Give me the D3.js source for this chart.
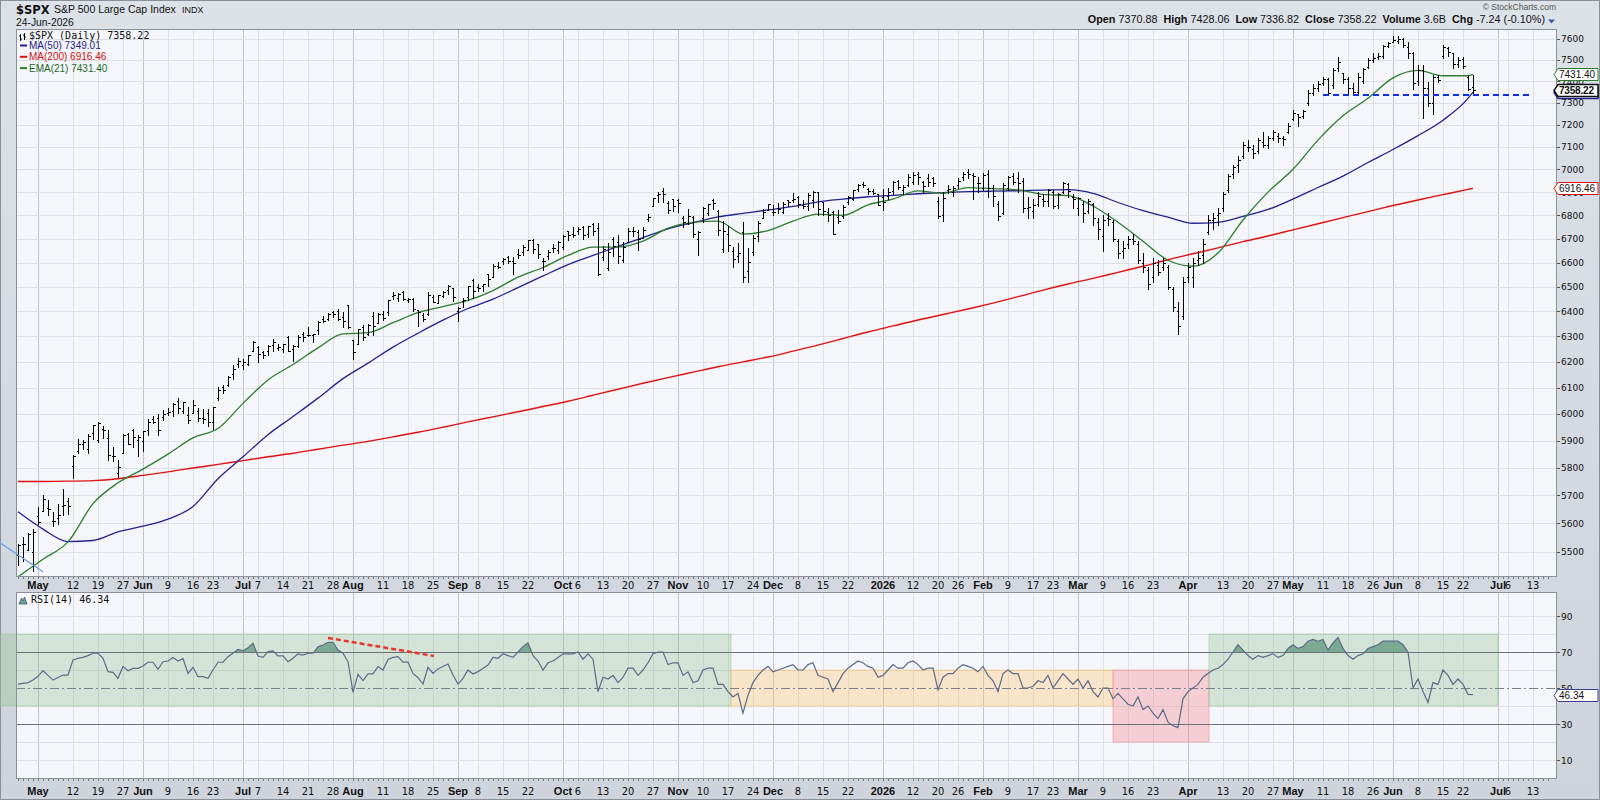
<!DOCTYPE html>
<html>
<head>
<meta charset="utf-8">
<title>$SPX Daily</title>
<script src="https://cdn.jsdelivr.net/npm/d3@7/dist/d3.min.js"></script>
<style>
  html, body { margin: 0; padding: 0; background: #fff; }
  svg { display: block; }
</style>
</head>
<body>
<div id="chart"></div>
<script>
// ---------------- data ----------------
// exchange holidays, used to lay the trading days out on the x axis
const holidays = ["2025-05-26", "2025-06-19", "2025-07-04", "2025-09-01", "2025-11-27",
  "2025-12-25", "2026-01-01", "2026-01-19", "2026-02-16", "2026-04-03", "2026-05-25",
  "2026-06-19", "2026-07-03"];
const firstDay = "2025-04-25";

// daily bars 2025-04-25 .. 2026-06-24, one row per month
const barOpen = [
  5489, 5529, 5508, 5499,
  5626, 5645, 5655, 5608, 5618, 5663, 5680, 5807, 5862, 5886, 5870, 5930, 5902, 5944, 5910, 5842, 5782, 5855, 5925, 5939, 5904,
  5897, 5938, 5979, 5985, 5987, 6005, 6010, 6049, 6010, 5997, 6005, 6012, 5986, 6005, 5969, 6062, 6104, 6112, 6151, 6193,
  6187, 6192, 6243, 6260, 6239, 6242, 6266, 6256, 6251, 6296, 6250, 6264, 6308, 6304, 6307, 6326, 6368, 6371, 6397, 6404, 6377, 6428,
  6288, 6271, 6336, 6310, 6382, 6354, 6389, 6398, 6461, 6454, 6478, 6445, 6451, 6406, 6384, 6390, 6458, 6436, 6462, 6487, 6494,
  6401, 6442, 6458, 6529, 6498, 6502, 6551, 6542, 6588, 6605, 6624, 6607, 6637, 6644, 6654, 6696, 6676, 6607, 6627, 6661, 6651,
  6665, 6732, 6722, 6733, 6749, 6719, 6764, 6744, 6625, 6577, 6698, 6688, 6610, 6687, 6735, 6730, 6703, 6786, 6840, 6889, 6905, 6853, 6870,
  6867, 6788, 6769, 6792, 6701, 6790, 6808, 6864, 6818, 6658, 6722, 6650, 6626, 6729, 6564, 6643, 6712, 6788, 6823,
  6813, 6830, 6815, 6866, 6867, 6880, 6843, 6842, 6867, 6899, 6857, 6816, 6812, 6791, 6796, 6856, 6869, 6912, 6936, 6913, 6907, 6890,
  6878, 6884, 6903, 6947, 6910, 6930, 6945, 6980, 6945, 6960, 6960, 6860, 6800, 6910, 6900, 6930, 6965, 6990, 6975, 6940,
  6920, 6980, 6920, 6850, 6810, 6920, 6970, 6960, 6950, 6830, 6820, 6850, 6870, 6860, 6900, 6845, 6900, 6935, 6880,
  6830, 6850, 6820, 6850, 6770, 6710, 6790, 6770, 6690, 6650, 6680, 6700, 6680, 6600, 6570, 6540, 6590, 6580, 6580, 6490, 6400, 6380,
  6540, 6540, 6610, 6630, 6730, 6780, 6800, 6830, 6910, 6980, 7020, 7060, 7100, 7090, 7080, 7120, 7110, 7140, 7150, 7140, 7165,
  7225, 7250, 7240, 7300, 7345, 7370, 7390, 7410, 7380, 7460, 7440, 7410, 7370, 7350, 7400, 7465, 7500, 7515, 7520, 7565,
  7585, 7590, 7600, 7560, 7530, 7400, 7450, 7370, 7300, 7420, 7520, 7555, 7530, 7480, 7505, 7420, 7370.88
];
const barHigh = [
  5528, 5553, 5565, 5581,
  5659, 5700, 5684, 5640, 5668, 5721, 5691, 5845, 5906, 5901, 5925, 5959, 5969, 5953, 5939, 5878, 5829, 5924, 5930, 5943, 5922,
  5937, 5979, 5991, 5999, 6016, 6022, 6043, 6060, 6045, 6026, 6051, 6024, 6019, 6018, 6028, 6102, 6109, 6146, 6187, 6216,
  6211, 6227, 6284, 6263, 6243, 6265, 6290, 6270, 6270, 6302, 6266, 6304, 6316, 6336, 6310, 6360, 6381, 6395, 6402, 6409, 6396, 6428,
  6288, 6331, 6346, 6349, 6396, 6395, 6401, 6446, 6481, 6474, 6482, 6456, 6456, 6407, 6394, 6479, 6466, 6467, 6483, 6508, 6497,
  6417, 6453, 6503, 6533, 6511, 6513, 6555, 6593, 6601, 6619, 6626, 6624, 6657, 6672, 6694, 6699, 6676, 6621, 6651, 6679, 6690,
  6715, 6734, 6750, 6749, 6753, 6755, 6765, 6765, 6671, 6683, 6708, 6716, 6685, 6745, 6752, 6736, 6750, 6807, 6876, 6901, 6920, 6862, 6872,
  6868, 6798, 6829, 6795, 6733, 6834, 6847, 6869, 6823, 6775, 6755, 6666, 6683, 6771, 6662, 6714, 6776, 6829, 6850,
  6843, 6851, 6858, 6867, 6895, 6885, 6865, 6895, 6904, 6902, 6858, 6830, 6820, 6821, 6843, 6881, 6910, 6937, 6945, 6920, 6915, 6893,
  6914, 6920, 6947, 6955, 6930, 6978, 6986, 6986, 6950, 6979, 6967, 6880, 6900, 6932, 6925, 6960, 6990, 7002, 6985, 6965,
  6985, 6995, 6930, 6860, 6940, 6970, 6985, 6990, 6960, 6880, 6870, 6900, 6890, 6915, 6910, 6895, 6945, 6940, 6890,
  6880, 6860, 6870, 6855, 6790, 6800, 6810, 6780, 6700, 6690, 6710, 6720, 6690, 6640, 6580, 6620, 6610, 6620, 6590, 6500, 6440, 6540,
  6600, 6620, 6650, 6700, 6800, 6810, 6830, 6900, 6980, 7020, 7060, 7120, 7130, 7110, 7140, 7165, 7150, 7175, 7160, 7150, 7205,
  7267, 7250, 7267, 7360, 7385, 7400, 7420, 7415, 7460, 7515, 7440, 7420, 7390, 7440, 7460, 7510, 7530, 7530, 7570, 7585,
  7612, 7612, 7605, 7585, 7535, 7475, 7475, 7395, 7430, 7430, 7570, 7560, 7530, 7512, 7512, 7430, 7428.06
];
const barLow = [
  5455, 5468, 5506, 5433,
  5597, 5644, 5629, 5590, 5597, 5628, 5632, 5764, 5853, 5867, 5854, 5907, 5895, 5910, 5830, 5825, 5767, 5855, 5887, 5875, 5843,
  5862, 5922, 5966, 5921, 5978, 5994, 5993, 6003, 6003, 5964, 6005, 5975, 5967, 5953, 5943, 6051, 6080, 6105, 6133, 6181,
  6173, 6188, 6241, 6201, 6216, 6228, 6241, 6245, 6237, 6242, 6202, 6258, 6284, 6303, 6277, 6311, 6356, 6365, 6378, 6366, 6336, 6332,
  6212, 6271, 6286, 6304, 6306, 6354, 6364, 6385, 6451, 6441, 6445, 6437, 6401, 6343, 6360, 6386, 6438, 6433, 6457, 6469, 6444,
  6360, 6418, 6445, 6453, 6485, 6484, 6503, 6540, 6578, 6596, 6598, 6551, 6620, 6633, 6651, 6642, 6619, 6570, 6614, 6644, 6642,
  6655, 6693, 6706, 6720, 6700, 6708, 6717, 6550, 6611, 6569, 6626, 6600, 6603, 6687, 6713, 6654, 6703, 6777, 6838, 6856, 6856, 6811, 6818,
  6815, 6752, 6764, 6708, 6632, 6773, 6802, 6826, 6715, 6646, 6650, 6580, 6604, 6521, 6521, 6631, 6690, 6788, 6823,
  6800, 6808, 6809, 6838, 6858, 6834, 6832, 6822, 6837, 6801, 6801, 6776, 6720, 6766, 6790, 6850, 6865, 6906, 6921, 6891, 6892, 6845,
  6824, 6870, 6890, 6912, 6890, 6925, 6934, 6936, 6895, 6925, 6925, 6790, 6775, 6895, 6885, 6920, 6955, 6960, 6870, 6900,
  6910, 6880, 6840, 6780, 6805, 6910, 6935, 6900, 6815, 6790, 6790, 6840, 6840, 6840, 6830, 6830, 6895, 6880, 6830,
  6800, 6770, 6810, 6760, 6700, 6650, 6760, 6690, 6620, 6620, 6660, 6680, 6600, 6560, 6490, 6520, 6550, 6570, 6490, 6400, 6310, 6370,
  6520, 6500, 6590, 6600, 6720, 6740, 6760, 6820, 6900, 6960, 6990, 7050, 7080, 7050, 7070, 7100, 7095, 7130, 7120, 7110, 7160,
  7220, 7195, 7232, 7290, 7335, 7355, 7380, 7335, 7370, 7445, 7390, 7345, 7338, 7340, 7390, 7460, 7490, 7505, 7510, 7560,
  7585, 7580, 7560, 7510, 7365, 7380, 7230, 7285, 7250, 7395, 7510, 7520, 7460, 7465, 7460, 7360, 7336.82
];
const barClose = [
  5525, 5529, 5561, 5569,
  5604, 5687, 5650, 5607, 5631, 5664, 5660, 5844, 5887, 5893, 5917, 5958, 5964, 5940, 5845, 5842, 5803, 5922, 5889, 5912, 5912,
  5936, 5970, 5971, 5939, 6000, 6006, 6039, 6022, 6045, 5977, 6033, 5983, 5981, 5968, 6025, 6092, 6092, 6141, 6173, 6205,
  6198, 6227, 6279, 6230, 6226, 6263, 6280, 6260, 6269, 6244, 6264, 6297, 6297, 6306, 6310, 6359, 6363, 6389, 6390, 6371, 6363, 6339,
  6238, 6330, 6299, 6345, 6340, 6389, 6373, 6446, 6467, 6469, 6450, 6449, 6411, 6396, 6370, 6467, 6439, 6466, 6481, 6502, 6460,
  6416, 6448, 6502, 6482, 6495, 6513, 6532, 6587, 6584, 6615, 6607, 6600, 6632, 6664, 6694, 6657, 6638, 6605, 6644, 6661, 6688,
  6711, 6715, 6716, 6740, 6715, 6754, 6735, 6553, 6655, 6644, 6671, 6629, 6664, 6735, 6735, 6699, 6738, 6792, 6875, 6891, 6891, 6822, 6840,
  6852, 6772, 6796, 6720, 6729, 6832, 6847, 6851, 6737, 6734, 6672, 6617, 6642, 6539, 6603, 6705, 6766, 6813, 6849,
  6813, 6829, 6850, 6857, 6870, 6847, 6841, 6887, 6901, 6827, 6817, 6800, 6721, 6775, 6835, 6878, 6910, 6932, 6930, 6906, 6896, 6846,
  6858, 6902, 6945, 6921, 6921, 6966, 6977, 6964, 6927, 6944, 6940, 6797, 6876, 6913, 6916, 6950, 6979, 6978, 6969, 6939,
  6976, 6918, 6883, 6798, 6932, 6965, 6942, 6941, 6833, 6836, 6843, 6881, 6862, 6910, 6838, 6890, 6940, 6905, 6870,
  6875, 6810, 6860, 6790, 6740, 6780, 6785, 6700, 6640, 6660, 6700, 6690, 6610, 6580, 6510, 6600, 6560, 6600, 6500, 6420, 6340, 6520,
  6580, 6600, 6620, 6680, 6780, 6790, 6810, 6890, 6970, 7010, 7040, 7110, 7100, 7070, 7130, 7110, 7140, 7165, 7140, 7135, 7195,
  7255, 7235, 7260, 7345, 7370, 7385, 7410, 7345, 7450, 7490, 7410, 7370, 7350, 7420, 7455, 7500, 7510, 7520, 7565, 7580,
  7595, 7600, 7570, 7530, 7390, 7450, 7370, 7300, 7420, 7405, 7560, 7535, 7480, 7500, 7470, 7365.46, 7358.22
];
const volumeText = "3.6B";

// moving averages, read every fifth bar (bar number counted from 2025-04-25)
const maIdx = [0, 5, 10, 15, 20, 25, 30, 35, 40, 45, 50, 55, 60, 65, 70, 75, 80, 85, 90, 95,
  100, 105, 110, 115, 120, 125, 130, 135, 140, 145, 150, 155, 160, 165, 170, 175, 180, 185, 190, 195,
  200, 205, 210, 215, 220, 225, 230, 235, 240, 245, 250, 255, 260, 265, 270, 275, 280, 285, 290, 291];
const ma50 = [5641, 5580, 5536, 5540, 5570, 5590, 5615, 5660, 5760, 5840, 5922, 5990, 6060, 6135, 6195, 6258, 6313, 6365, 6412, 6450,
  6497, 6545, 6592, 6630, 6668, 6705, 6742, 6768, 6793, 6808, 6823, 6838, 6858, 6870, 6880, 6886, 6893, 6898, 6902, 6904,
  6906, 6909, 6911, 6895, 6855, 6820, 6792, 6766, 6770, 6795, 6825, 6870, 6920, 6970, 7030, 7088, 7150, 7220, 7320, 7349.01];
const ma200 = [5750, 5750, 5751, 5753, 5760, 5772, 5785, 5799, 5812, 5826, 5840, 5853, 5868, 5883, 5897, 5914, 5931, 5950, 5970, 5989,
  6008, 6028, 6048, 6071, 6094, 6117, 6139, 6160, 6181, 6200, 6219, 6242, 6266, 6292, 6318, 6342, 6366, 6388, 6410, 6434,
  6460, 6487, 6512, 6535, 6560, 6585, 6612, 6637, 6662, 6688, 6712, 6738, 6764, 6790, 6816, 6842, 6866, 6889, 6912, 6916.46];
const ema21 = [5415, 5475, 5535, 5670, 5745, 5795, 5850, 5910, 5945, 6040, 6130, 6190, 6255, 6310, 6315, 6355, 6395, 6420, 6445, 6485,
  6540, 6580, 6630, 6665, 6665, 6690, 6745, 6770, 6775, 6720, 6735, 6775, 6805, 6800, 6845, 6870, 6905, 6895, 6920, 6915,
  6910, 6890, 6885, 6840, 6770, 6690, 6610, 6585, 6640, 6780, 6900, 7000, 7130, 7240, 7320, 7415, 7450, 7425, 7425, 7431.40];

// RSI(14), one value per bar
const rsi14 = [
  52.2, 52.6, 53.0, 54.4,
  56.5, 59.6, 57.0, 54.4, 55.8, 57.2, 57.2, 65.6, 66.5, 67.0, 68.0, 69.3, 69.3, 66.5, 59.1, 58.7, 55.4, 61.9, 59.6, 60.9, 60.9,
  62.2, 64.3, 64.3, 60.4, 64.6, 65.0, 67.0, 65.0, 66.3, 58.1, 61.5, 56.3, 56.3, 55.4, 60.0, 64.3, 64.3, 67.4, 69.3, 71.5,
  70.6, 72.4, 74.8, 67.8, 67.0, 70.2, 70.6, 67.8, 67.8, 64.6, 66.5, 68.9, 68.3, 69.3, 69.3, 72.9, 73.9, 75.4, 75.4, 71.1, 69.3, 64.6,
  47.6, 57.6, 54.1, 57.8, 57.8, 61.9, 60.0, 65.9, 67.0, 67.4, 64.4, 64.4, 58.1, 55.7, 52.2, 61.5, 58.1, 60.6, 61.9, 63.3, 57.2,
  52.2, 55.4, 60.0, 57.8, 59.1, 60.9, 62.8, 67.0, 66.5, 69, 68, 67, 70, 73, 75, 68, 65, 60, 64, 65, 67,
  69, 69, 69, 70, 66, 69, 66, 48, 56, 55, 57, 53, 56, 61, 61, 57, 60, 64, 69, 70, 70, 63, 64,
  64, 57, 59, 53, 54, 60, 61, 61, 52, 52, 48, 45, 47, 36, 46, 53, 57, 60, 62,
  59, 60, 61, 62, 63, 60, 60, 63, 64, 57, 56, 55, 48, 53, 58, 61, 63, 65, 64, 62, 61, 56,
  57, 60, 63, 61, 61, 64, 65, 63, 60, 61, 61, 49, 56, 58, 58, 61, 63, 62, 61, 59,
  62, 57, 54, 48, 58, 60, 58, 58, 50, 50, 51, 54, 53, 57, 50, 54, 58, 55, 52,
  55, 50, 54, 48, 45, 50, 50, 44, 47, 44, 41, 40, 45, 38, 40, 36, 33, 38, 31, 29, 28, 44,
  48, 50, 52, 56, 58, 60, 61, 63, 66, 70, 74, 71, 68, 66, 68, 67, 68, 69, 67, 68, 72,
  74, 72, 73, 76, 77, 76, 77, 71, 75, 78, 72, 68, 66, 68, 69, 72, 73, 74, 76, 76,
  76, 76, 74, 70, 50, 55, 48, 42, 53, 52, 60, 57, 52, 55, 52, 46.5, 46.34
];

// x axis tick dates and their labels
const tickDates = ["2025-05-01", "2025-05-12", "2025-05-19", "2025-05-27", "2025-06-02", "2025-06-09", "2025-06-16", "2025-06-23",
  "2025-07-01", "2025-07-07", "2025-07-14", "2025-07-21", "2025-07-28", "2025-08-01", "2025-08-11", "2025-08-18", "2025-08-25",
  "2025-09-02", "2025-09-08", "2025-09-15", "2025-09-22", "2025-10-01", "2025-10-06", "2025-10-13", "2025-10-20", "2025-10-27",
  "2025-11-03", "2025-11-10", "2025-11-17", "2025-11-24", "2025-12-01", "2025-12-08", "2025-12-15", "2025-12-22",
  "2026-01-02", "2026-01-12", "2026-01-20", "2026-01-26", "2026-02-02", "2026-02-09", "2026-02-17", "2026-02-23",
  "2026-03-02", "2026-03-09", "2026-03-16", "2026-03-23", "2026-04-01", "2026-04-13", "2026-04-20", "2026-04-27",
  "2026-05-01", "2026-05-11", "2026-05-18", "2026-05-26", "2026-06-01", "2026-06-08", "2026-06-15", "2026-06-22",
  "2026-07-01", "2026-07-06", "2026-07-13"];
const tickLabels = ["May", "12", "19", "27", "Jun", "9", "16", "23", "Jul", "7", "14", "21", "28", "Aug", "11", "18", "25",
  "Sep", "8", "15", "22", "Oct", "6", "13", "20", "27", "Nov", "10", "17", "24", "Dec", "8", "15", "22",
  "2026", "12", "20", "26", "Feb", "9", "17", "23", "Mar", "9", "16", "23", "Apr", "13", "20", "27",
  "May", "11", "18", "26", "Jun", "8", "15", "22", "Jul", "6", "13"];
const priceTicks = [5500, 5600, 5700, 5800, 5900, 6000, 6100, 6200, 6300, 6400, 6500, 6600, 6700, 6800, 6900, 7000,
  7100, 7200, 7300, 7400, 7500, 7600];
const rsiTicks = [10, 30, 50, 70, 90];

// RSI highlight zones (bar number from/to, RSI low/high)
const zoneFrom = [-3.6, 142.6, 219, 238.2];
const zoneTo = [142.6, 219, 238.2, 296];
const zoneLow = [40, 40, 20, 40];
const zoneHigh = [80, 60, 60, 80];
const zoneColor = ["#8fc08f", "#ffbf66", "#f47c86", "#8fc08f"];

// drawn annotations (bar number, value)
const supportLine = { from: 261, to: 302.8, price: 7335 };
const trendLine = { from: -3.6, p0: 5532, to: 5, p1: 5432 };
const rsiDivergence = { from: 62, v0: 77.8, to: 83.2, v1: 67.8 };

// ---------------- layout ----------------
const W = 1600, H = 800;
const main = { left: 16, right: 1557, top: 29, bottom: 577 };
const lower = { top: 592, bottom: 779 };
const bgPlot = "#f5f6fa";

const tradingDays = [];
for (let d = new Date(firstDay + "T00:00:00Z"); tradingDays.length < 320; d.setUTCDate(d.getUTCDate() + 1)) {
  const iso = d.toISOString().slice(0, 10);
  const wd = d.getUTCDay();
  if (wd > 0 && wd < 6 && !holidays.includes(iso)) tradingDays.push(iso);
}
const dayIdx = new Map(tradingDays.map((s, i) => [s, i]));

const x = d3.scaleLinear().domain([-0.4, 307.8]).range([main.left, main.right]);
const y = d3.scaleLog().domain([5414, 7647]).range([main.bottom, main.top]);
const yr = d3.scaleLinear().domain([0, 100]).range([778, 598]);
const px = v => Math.round(v) + 0.5;

const svg = d3.select("#chart").append("svg")
  .attr("width", W).attr("height", H)
  .style("font-family", '"Liberation Sans", Arial, sans-serif');

const defs = svg.append("defs");
const bgGrad = defs.append("linearGradient").attr("id", "frameGrad").attr("x1", 0).attr("x2", 0).attr("y1", 0).attr("y2", 1);
bgGrad.append("stop").attr("offset", 0).attr("stop-color", "#dde1e8");
bgGrad.append("stop").attr("offset", 1).attr("stop-color", "#ced3dc");
defs.append("clipPath").attr("id", "clipMain").append("rect")
  .attr("x", main.left).attr("y", main.top).attr("width", main.right - main.left).attr("height", main.bottom - main.top);
defs.append("clipPath").attr("id", "clipLower").append("rect")
  .attr("x", 0).attr("y", lower.top).attr("width", main.right).attr("height", lower.bottom - lower.top);
defs.append("clipPath").attr("id", "clipOB").append("rect")
  .attr("x", main.left).attr("y", lower.top).attr("width", main.right - main.left).attr("height", yr(70) - lower.top);

// frame + plot backgrounds
svg.append("rect").attr("width", W).attr("height", H).attr("fill", "url(#frameGrad)");
svg.append("rect").attr("x", 0.5).attr("y", 0.5).attr("width", W - 1).attr("height", H - 1)
  .attr("fill", "none").attr("stroke", "#8a909a");
[[main.top, main.bottom], [lower.top, lower.bottom]].forEach(([t, b]) => {
  svg.append("rect").attr("x", main.left).attr("y", t).attr("width", main.right - main.left).attr("height", b - t)
    .attr("fill", bgPlot);
});

// ---------------- grids ----------------
const ticks = tickDates.map((d, k) => ({ i: dayIdx.get(d), label: tickLabels[k], major: isNaN(+tickLabels[k]) || tickLabels[k] === "2026" }));
const grid = svg.append("g");
[[main.top, main.bottom], [lower.top, lower.bottom]].forEach(([t, b]) => {
  grid.selectAll(null).data(ticks).join("line")
    .attr("x1", d => px(x(d.i))).attr("x2", d => px(x(d.i)))
    .attr("y1", t).attr("y2", b)
    .attr("stroke", d => d.major ? "#bfc3cb" : "#dcdfe5").attr("stroke-width", 1);
});
grid.selectAll(null).data(priceTicks).join("line")
  .attr("x1", main.left).attr("x2", main.right)
  .attr("y1", d => px(y(d))).attr("y2", d => px(y(d)))
  .attr("stroke", "#dcdfe5");
grid.selectAll(null).data([10, 20, 40, 60, 80, 90]).join("line")
  .attr("x1", main.left).attr("x2", main.right)
  .attr("y1", d => px(yr(d))).attr("y2", d => px(yr(d)))
  .attr("stroke", "#dcdfe5");

// ---------------- RSI panel ----------------
const lowerG = svg.append("g").attr("clip-path", "url(#clipLower)");
lowerG.selectAll(null).data(zoneFrom).join("rect")
  .attr("x", (d, k) => x(zoneFrom[k])).attr("width", (d, k) => x(zoneTo[k]) - x(zoneFrom[k]))
  .attr("y", (d, k) => yr(zoneHigh[k])).attr("height", (d, k) => yr(zoneLow[k]) - yr(zoneHigh[k]))
  .attr("fill", (d, k) => zoneColor[k]).attr("fill-opacity", 0.33)
  .attr("stroke", (d, k) => zoneColor[k]).attr("stroke-opacity", 0.5);

lowerG.selectAll(null).data([30, 70]).join("line")
  .attr("x1", main.left).attr("x2", main.right)
  .attr("y1", d => px(yr(d))).attr("y2", d => px(yr(d)))
  .attr("stroke", "#6c717b").attr("stroke-width", 1.2);
lowerG.append("line")
  .attr("x1", main.left).attr("x2", main.right)
  .attr("y1", px(yr(50))).attr("y2", px(yr(50)))
  .attr("stroke", "#7a7f88").attr("stroke-dasharray", "9,3,2,3");

const rsiArea = d3.area().x((d, i) => x(i)).y0(yr(70)).y1(d => yr(d));
svg.append("path").datum(rsi14).attr("clip-path", "url(#clipOB)")
  .attr("d", rsiArea).attr("fill", "#5d977c").attr("fill-opacity", 0.75);
svg.append("path").datum(rsi14)
  .attr("d", d3.line().x((d, i) => x(i)).y(d => yr(d)))
  .attr("fill", "none").attr("stroke", "#5b6a88").attr("stroke-width", 1.2);

svg.append("line")
  .attr("x1", x(rsiDivergence.from)).attr("y1", yr(rsiDivergence.v0))
  .attr("x2", x(rsiDivergence.to)).attr("y2", yr(rsiDivergence.v1))
  .attr("stroke", "#e8362e").attr("stroke-width", 2.5).attr("stroke-dasharray", "5,3");

// ---------------- price panel ----------------
const mainG = svg.append("g").attr("clip-path", "url(#clipMain)");
const maLine = vals => d3.line().curve(d3.curveMonotoneX)
  .x((d, k) => x(maIdx[k])).y(d => y(d))(vals);
mainG.append("path").attr("d", maLine(ma200)).attr("fill", "none").attr("stroke", "#e01010").attr("stroke-width", 1.4);
mainG.append("path").attr("d", maLine(ma50)).attr("fill", "none").attr("stroke", "#23238f").attr("stroke-width", 1.3);
mainG.append("path").attr("d", maLine(ema21)).attr("fill", "none").attr("stroke", "#2d7d2d").attr("stroke-width", 1.3);

const bars = barClose.map((c, i) => ({ i, o: barOpen[i], h: barHigh[i], l: barLow[i], c }));
const barG = mainG.append("g").attr("stroke", "#000").attr("stroke-width", 1).attr("shape-rendering", "crispEdges");
barG.selectAll(null).data(bars).join("path")
  .attr("d", b => {
    const cx = px(x(b.i));
    const yh = Math.round(y(b.h)), yl = Math.max(Math.round(y(b.l)), yh + 1);
    const yo = Math.round(y(b.o)) + 0.5, yc = Math.round(y(b.c)) + 0.5;
    return `M${cx},${yh}V${yl + 1}M${cx - 2},${yo}H${cx}M${cx},${yc}H${cx + 2.5}`;
  });

mainG.append("line")
  .attr("x1", x(supportLine.from)).attr("x2", x(supportLine.to))
  .attr("y1", y(supportLine.price)).attr("y2", y(supportLine.price))
  .attr("stroke", "#1030e0").attr("stroke-width", 2).attr("stroke-dasharray", "6,4");
svg.append("line")
  .attr("x1", x(trendLine.from)).attr("y1", y(trendLine.p0))
  .attr("x2", x(trendLine.to)).attr("y2", y(trendLine.p1))
  .attr("stroke", "#6a9de6").attr("stroke-width", 1.3);

// panel borders
[[main.top, main.bottom], [lower.top, lower.bottom]].forEach(([t, b]) => {
  svg.append("rect").attr("x", main.left + 0.5).attr("y", t + 0.5)
    .attr("width", main.right - main.left - 1).attr("height", b - t - 1)
    .attr("fill", "none").attr("stroke", "#8b909a");
});

// ---------------- axes ----------------
const rightAxis = svg.append("g").style("font-family", '"DejaVu Sans", Verdana, sans-serif').attr("font-size", 9).attr("fill", "#111");
rightAxis.selectAll(null).data(priceTicks).join("text")
  .attr("x", main.right + 4).attr("y", d => y(d) + 3.5).text(d => d);
rightAxis.selectAll(null).data(rsiTicks).join("text")
  .attr("x", main.right + 4).attr("y", d => yr(d) + 3.5).text(d => d);
svg.append("g").selectAll(null).data(priceTicks).join("line")
  .attr("x1", main.right).attr("x2", main.right + 3)
  .attr("y1", d => px(y(d))).attr("y2", d => px(y(d))).attr("stroke", "#555");
svg.append("g").selectAll(null).data(rsiTicks).join("line")
  .attr("x1", main.right).attr("x2", main.right + 3)
  .attr("y1", d => px(yr(d))).attr("y2", d => px(yr(d))).attr("stroke", "#555");

// tiny day ticks under each panel
[main.bottom, lower.bottom].forEach(b => {
  svg.append("g").selectAll(null).data(d3.range(0, 307)).join("line")
    .attr("x1", i => px(x(i))).attr("x2", i => px(x(i)))
    .attr("y1", b).attr("y2", b + 2).attr("stroke", "#777");
});
[589, 795].forEach(base => {
  svg.append("g").selectAll(null).data(ticks).join("text")
    .attr("x", d => x(d.i)).attr("y", base)
    .attr("text-anchor", "middle")
    .style("font-family", d => d.major ? '"Liberation Sans", Arial, sans-serif' : '"Liberation Sans Narrow", "DejaVu Sans Condensed", sans-serif')
    .attr("font-weight", d => d.major ? "bold" : "normal")
    .attr("font-size", 11).attr("fill", "#111")
    .text(d => d.label);
});

// value tags on the right edge
function tag(v, yScale, color, bold) {
  const yc = Math.round(yScale(v)) + 0.5;
  const g = svg.append("g");
  g.append("path")
    .attr("d", `M${main.right - 3},${yc}L${main.right + 1},${yc - 6}H${W - 2}V${yc + 6}H${main.right + 1}Z`)
    .attr("fill", "#fff").attr("stroke", color).attr("stroke-width", bold ? 1.5 : 1);
  g.append("text").attr("x", main.right + 2).attr("y", yc + 3.5)
    .attr("font-size", 10).attr("letter-spacing", bold ? -0.2 : 0)
    .attr("font-weight", bold ? "bold" : "normal").attr("fill", "#111")
    .text(d3.format(".2f")(v));
}
const last = barClose.length - 1;
tag(ema21[ema21.length - 1], y, "#2d7d2d", false);
tag(ma200[ma200.length - 1], y, "#e01010", false);
tag(ma50[ma50.length - 1], y, "#23238f", true);
tag(barClose[last], y, "#111", true);
tag(rsi14[rsi14.length - 1], yr, "#3a3f8f", false);

// ---------------- header & legends ----------------
const head = svg.append("g").attr("fill", "#111");
head.append("text").attr("x", 16).attr("y", 13.5)
  .style("font-family", '"DejaVu Sans", Verdana, sans-serif').attr("font-weight", "bold").attr("font-size", 11.5)
  .text("$SPX");
head.append("text").attr("x", 54).attr("y", 13).attr("font-size", 10.5).text("S&P 500 Large Cap Index");
head.append("text").attr("x", 182).attr("y", 13).attr("font-size", 9).text("INDX");
head.append("text").attr("x", 16).attr("y", 26).attr("font-size", 10.3).text("24-Jun-2026");
head.append("text").attr("x", 1556).attr("y", 9.5).attr("text-anchor", "end").attr("font-size", 8.5).attr("fill", "#555")
  .text("\u00a9 StockCharts.com");

const chg = barClose[last] - barClose[last - 1];
const quote = [["Open", barOpen[last]], ["High", barHigh[last]], ["Low", barLow[last]], ["Close", barClose[last]],
  ["Volume", volumeText], ["Chg", `${chg.toFixed(2)} (${(100 * chg / barClose[last - 1]).toFixed(2)}%)`]];
const qt = head.append("text").attr("x", 1545).attr("y", 23).attr("text-anchor", "end").attr("font-size", 10.8)
  .attr("xml:space", "preserve");
quote.forEach(([k, v], n) => {
  qt.append("tspan").attr("font-weight", "bold").text((n ? "  " : "") + k + " ");
  qt.append("tspan").text(typeof v === "number" ? v.toFixed(2) : v);
});
head.append("path").attr("d", "M1548,19.5h7l-3.5,4z").attr("fill", "#3b5aa8");

const legend = svg.append("g");
// price legend icon
legend.append("path").attr("d", "M20.5,34V41M19,36H20.5M20.5,39H22M24.5,33V40M23,35H24.5M24.5,37H26")
  .attr("stroke", "#111").attr("fill", "none");
legend.append("text").attr("x", 29).attr("y", 39)
  .style("font-family", '"DejaVu Sans Mono", monospace').attr("font-size", 10).attr("fill", "#111")
  .text(`$SPX (Daily) ${barClose[last].toFixed(2)}`);
const legendRows = [["MA(50)", ma50, "#23238f", "#1f1f8a"], ["MA(200)", ma200, "#e01010", "#d01010"], ["EMA(21)", ema21, "#2d7d2d", "#1f6b1f"]];
legendRows.forEach(([name, vals, color, txt], k) => {
  const by = 49 + k * 11.3;
  legend.append("line").attr("x1", 20).attr("x2", 27).attr("y1", by - 3.5).attr("y2", by - 3.5)
    .attr("stroke", color).attr("stroke-width", 2);
  legend.append("text").attr("x", 29).attr("y", by).attr("font-size", 10).attr("fill", txt)
    .text(`${name} ${vals[vals.length - 1].toFixed(2)}`);
});
legend.append("path").attr("d", "M19,604L21.5,598L23,601L24.5,597L27,604Z")
  .attr("fill", "#6f9f8a").attr("stroke", "#42607a").attr("stroke-width", 0.8);
legend.append("text").attr("x", 31).attr("y", 603)
  .style("font-family", '"DejaVu Sans Mono", monospace').attr("font-size", 10).attr("fill", "#111")
  .text(`RSI(14) ${rsi14[rsi14.length - 1].toFixed(2)}`);
</script>
</body>
</html>
